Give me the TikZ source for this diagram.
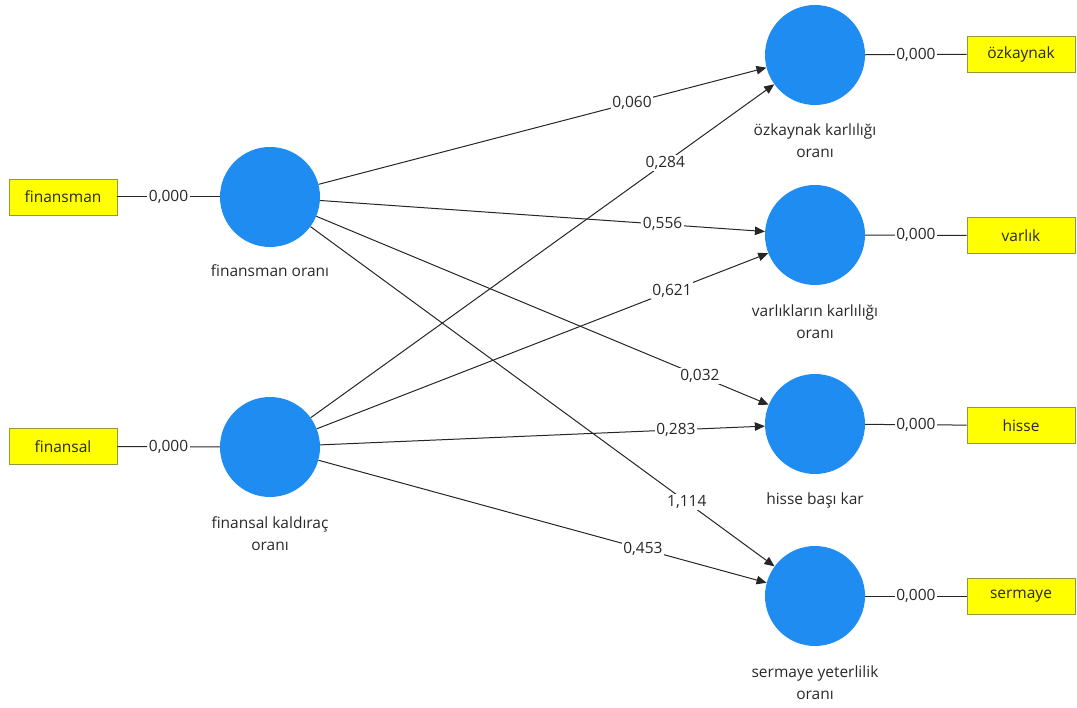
\documentclass[tikz,border=0pt]{standalone}
\usepackage{fontspec}
\setmainfont{Open Sans}
\usetikzlibrary{arrows.meta}
\definecolor{lvblue}{RGB}{30,140,240}
\definecolor{ind}{RGB}{255,255,0}
\definecolor{indborder}{RGB}{150,150,60}
\definecolor{txt}{RGB}{40,40,40}
\tikzset{
  lv/.style={circle,fill=lvblue,draw=none,minimum size=100pt,inner sep=0pt},
  lvlabel/.style={text=txt,align=center,font=\fontsize{15.5}{22}\selectfont,inner sep=0pt},
  indbox/.style={rectangle,fill=ind,draw=indborder,line width=0.6pt,minimum width=108pt,minimum height=36pt,inner sep=0pt,text=txt,font=\fontsize{15.5}{18}\selectfont},
  val/.style={fill=white,inner sep=1.5pt,text=txt,font=\fontsize{15.5}{18}\selectfont},
  link/.style={draw=black!85,line width=1pt},
  path/.style={link,-{Triangle[length=10pt,width=8.5pt]}}
}
\begin{document}
\begin{tikzpicture}[x=1pt,y=-1pt]
\useasboundingbox (0,0) rectangle (1077,708);
% latent variables
\node[lv] (fo) at (270,197) {};
\node[lv] (fk) at (270,447) {};
\node[lv] (ok) at (815,55) {};
\node[lv] (vk) at (815,235) {};
\node[lv] (hb) at (815,424) {};
\node[lv] (sy) at (815,596) {};
% labels
\node[lvlabel] (lfo) at (270,271) {finansman oranı};
\node[lvlabel] (lfk) at (270,534) {finansal kaldıraç\\oranı};
\node[lvlabel] (lok) at (815,141) {özkaynak karlılığı\\oranı};
\node[lvlabel] (lvk) at (815,322) {varlıkların karlılığı\\oranı};
\node[lvlabel] (lhb) at (815,500) {hisse başı kar};
\node[lvlabel] (lsy) at (815,683) {sermaye yeterlilik\\oranı};
% indicators
\node[indbox] (ifo) at (63,197) {finansman};
\node[indbox] (ifk) at (63,446.5) {finansal};
\node[indbox] (iok) at (1021,54) {özkaynak};
\node[indbox] (ivk) at (1021,235.5) {varlık};
\node[indbox] (ihb) at (1021,425.5) {hisse};
\node[indbox] (isy) at (1021,596) {sermaye};
% measurement links
\draw[link] (ifo) -- node[val]{0,000} (fo);
\draw[link] (ifk) -- node[val]{0,000} (fk);
\draw[link] (ok) -- node[val]{0,000} (iok);
\draw[link] (vk) -- node[val]{0,000} (ivk);
\draw[link] (hb) -- node[val]{0,000} (ihb);
\draw[link] (sy) -- node[val]{0,000} (isy);
% structural paths
\draw[path] (fo) -- node[val,pos=0.70]{0,060} (ok);
\draw[path] (fk) -- node[val,pos=0.765]{0,284} (ok);
\draw[path] (fo) -- node[val,pos=0.77]{0,556} (vk);
\draw[path] (fk) -- node[val,pos=0.787]{0,621} (vk);
\draw[path] (fo) -- node[val,pos=0.848]{0,032} (hb);
\draw[path] (fk) -- node[val,pos=0.80]{0,283} (hb);
\draw[path] (fo) -- node[val,pos=0.811]{1,114} (sy);
\draw[path] (fk) -- node[val,pos=0.724]{0,453} (sy);
\end{tikzpicture}
\end{document}
